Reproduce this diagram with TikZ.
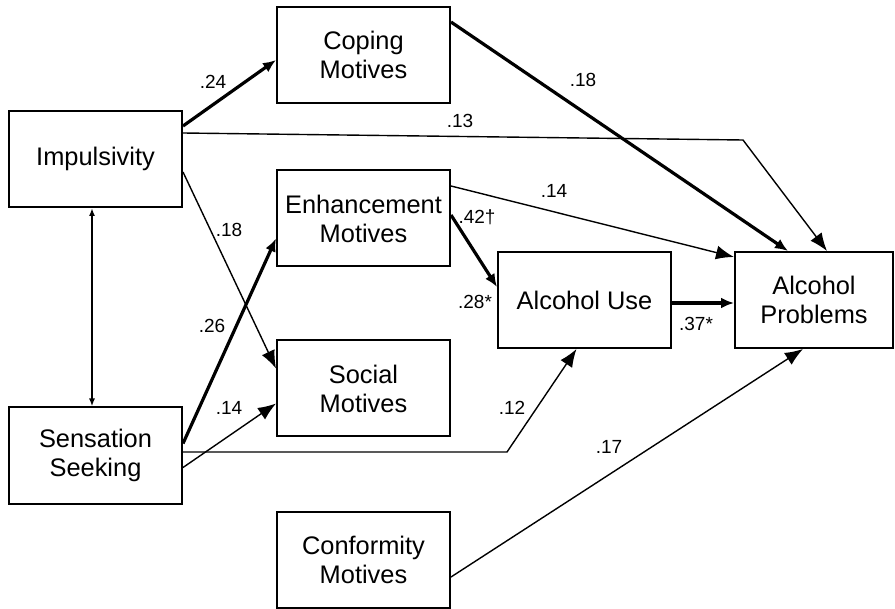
\documentclass[tikz,border=0pt]{standalone}
\usepackage{fontspec}
\setmainfont{Liberation Sans}
\usepackage{tikz}
\usetikzlibrary{arrows.meta,positioning,calc}
\tikzset{
  var/.style={draw=black,line width=1pt,fill=white,inner sep=2pt,align=center,
    minimum width=86.5pt,minimum height=48pt,font=\fontsize{12.7}{14.5}\selectfont},
  varw/.style={var,minimum width=79pt},
  path/.style={-{Latex[length=9pt,width=7pt]},line width=0.7pt},
  pathb/.style={-{Latex[length=6.5pt,width=5.5pt]},line width=1.6pt},
  corr/.style={{Latex[length=4pt,width=3pt]}-{Latex[length=4pt,width=3pt]},line width=0.8pt},
  coef/.style={font=\fontsize{9.5}{11}\selectfont,inner sep=1pt},
}

\begin{document}
\begin{tikzpicture}[x=0.5pt,y=-0.5pt]
  \useasboundingbox (0,0) rectangle (895,609);
  % ---- predictors ----
  \node[var] (imp) at (95.5,159)   {Impulsivity};
  \node[var] (sen) at (95.5,455.5) {Sensation\\Seeking};
  % ---- drinking motives ----
  \node[var] (cop) at (363.5,55)    {Coping\\Motives};
  \node[var] (enh) at (363.5,218.5) {Enhancement\\Motives};
  \node[var] (soc) at (363.5,388.5) {Social\\Motives};
  \node[var] (con) at (363.5,560)   {Conformity\\Motives};
  % ---- outcomes ----
  \node[var]  (use)  at (584.5,300) {Alcohol Use};
  \node[varw] (prob) at (814,300)   {Alcohol\\Problems};

  \coordinate (bend13) at (743,140);
  \coordinate (bend12) at (507,452);

  % ---- paths ----
  \draw[corr] ($(imp.south)+(-3.5,0)$) -- ($(sen.north)+(-3.5,0)$);
  \draw[pathb] ($(imp.east)+(0,-33)$) -- ($(cop.west)+(0,5)$);
  \draw[path] ($(imp.east)+(0,-26)$) -- (bend13) -- ($(prob.north)+(13,0)$);
  \draw[path] ($(imp.east)+(0,13)$) -- ($(soc.west)+(0,-20)$);
  \draw[pathb] ($(sen.east)+(0,-12)$) -- ($(enh.west)+(0,20)$);
  \draw[path] ($(sen.east)+(0,12)$) -- ($(soc.west)+(0,15)$);
  \draw[path] ($(sen.east)+(0,-3.5)$) -- (bend12) -- ($(use.south)+(-8,0)$);
  \draw[pathb] ($(cop.east)+(0,-33)$) -- ($(prob.north)+(-26,0)$);
  \draw[path] ($(enh.east)+(0,-32.5)$) -- ($(prob.west)+(0,-43)$);
  \draw[pathb] ($(enh.east)+(0,-3.5)$) -- ($(use.west)+(0,-13)$);
  \draw[pathb] ($(use.east)+(0,3)$) -- ($(prob.west)+(0,3)$);
  \draw[path] ($(con.east)+(0,17)$) -- ($(prob.south)+(-11,0)$);

  % ---- coefficients ----
  \node[coef] at (213,82)  {.24};
  \node[coef] at (460,121) {.13};
  \node[coef] at (229,230) {.18};
  \node[coef] at (212,326) {.26};
  \node[coef] at (229,408) {.14};
  \node[coef] at (512,408) {.12};
  \node[coef] at (583,80)  {.18};
  \node[coef] at (554,191) {.14};
  \node[coef] at (477,217) {.42†};
  \node[coef] at (475,302) {.28*};
  \node[coef] at (696,324) {.37*};
  \node[coef] at (609,447) {.17};
\end{tikzpicture}
\end{document}
